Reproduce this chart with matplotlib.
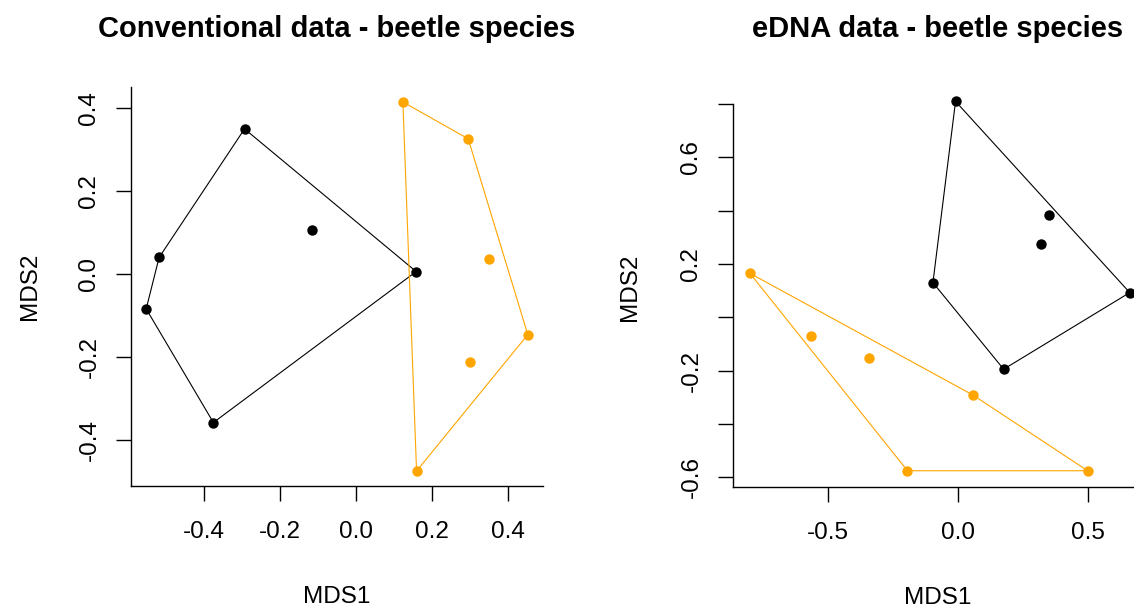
import matplotlib
matplotlib.use("Agg")
import matplotlib.pyplot as plt
import numpy as np

plt.rcParams['font.family'] = ['Liberation Sans', 'DejaVu Sans']

# NMDS scores
conv_black_x = [-0.293, -0.115, -0.518, -0.552, 0.159, -0.375]
conv_black_y = [0.349, 0.105, 0.039, -0.085, 0.005, -0.359]
conv_orange_x = [0.124, 0.296, 0.352, 0.453, 0.301, 0.160]
conv_orange_y = [0.414, 0.325, 0.035, -0.147, -0.213, -0.476]

edna_black_x = [-0.009, 0.350, 0.318, -0.096, 0.661, 0.176]
edna_black_y = [0.810, 0.384, 0.275, 0.130, 0.0925, -0.195]
edna_orange_x = [-0.800, -0.564, -0.342, 0.059, -0.194, 0.499]
edna_orange_y = [0.165, -0.069, -0.154, -0.2925, -0.576, -0.576]

conv_xticks = [-0.4, -0.2, 0.0, 0.2, 0.4]
conv_yticks = [-0.4, -0.2, 0.0, 0.2, 0.4]
edna_xticks = [-0.5, 0.0, 0.5]
edna_yticks = [-0.6, -0.4, -0.2, 0.0, 0.2, 0.4, 0.6, 0.8]
edna_ylabels = ["-0.6", "", "-0.2", "", "0.2", "", "0.6", ""]

ORANGE = "#FFA500"
FS = 17.5


def hull(xs, ys):
    # monotone chain convex hull, like ordihull
    pts = sorted(zip(xs, ys))

    def cross(o, a, b):
        return (a[0] - o[0]) * (b[1] - o[1]) - (a[1] - o[1]) * (b[0] - o[0])

    lower, upper = [], []
    for p in pts:
        while len(lower) >= 2 and cross(lower[-2], lower[-1], p) <= 0:
            lower.pop()
        lower.append(p)
    for p in reversed(pts):
        while len(upper) >= 2 and cross(upper[-2], upper[-1], p) <= 0:
            upper.pop()
        upper.append(p)
    h = lower[:-1] + upper[:-1]
    h.append(h[0])
    return np.array(h)


def draw_group(ax, xs, ys, color):
    h = hull(xs, ys)
    ax.plot(h[:, 0], h[:, 1], color=color, lw=0.8)
    ax.plot(xs, ys, 'o', color=color, markersize=7.5, markeredgewidth=0)


def style(ax, ylab_x):
    for s in ['top', 'right']:
        ax.spines[s].set_visible(False)
    for s in ['left', 'bottom']:
        ax.spines[s].set_linewidth(1.0)
    ax.tick_params(length=11, width=1.0, labelsize=FS)
    ax.tick_params(axis='x', pad=14)
    ax.tick_params(axis='y', labelrotation=90, pad=11)
    for lab in ax.get_yticklabels():
        lab.set_va('center')
    ax.set_xlabel("MDS1", fontsize=FS)
    ax.set_ylabel("MDS2", fontsize=FS)
    ax.xaxis.set_label_coords(0.5, -0.278)
    ax.xaxis.label.set_va('center')
    ax.yaxis.set_label_coords(ylab_x, 0.5)
    ax.yaxis.label.set_va('center')


fig = plt.figure(figsize=(11.34, 6.10), dpi=100)

ax1 = fig.add_axes([131 / 1134, 124 / 610, 412 / 1134, 399 / 610])
draw_group(ax1, conv_black_x, conv_black_y, 'black')
draw_group(ax1, conv_orange_x, conv_orange_y, ORANGE)
ax1.set_xlim(-0.592, 0.493)
ax1.set_ylim(-0.512, 0.450)
ax1.set_xticks(conv_xticks)
ax1.set_xticklabels([f"{v:.1f}" for v in conv_xticks])
ax1.set_yticks(conv_yticks)
ax1.set_yticklabels([f"{v:.1f}" for v in conv_yticks])
ax1.set_title("Conventional data - beetle species", fontsize=21, fontweight='bold', pad=36)
style(ax1, -0.245)

ax2 = fig.add_axes([733 / 1134, 123 / 610, 410 / 1134, 400 / 610])
draw_group(ax2, edna_black_x, edna_black_y, 'black')
draw_group(ax2, edna_orange_x, edna_orange_y, ORANGE)
ax2.set_xlim(-0.865, 0.712)
ax2.set_ylim(-0.637, 0.864)
ax2.set_xticks(edna_xticks)
ax2.set_xticklabels([f"{v:.1f}" for v in edna_xticks])
ax2.set_yticks(edna_yticks)
ax2.set_yticklabels(edna_ylabels)
ax2.spines['left'].set_bounds(-0.637, 0.8)
ax2.set_title("eDNA data - beetle species", fontsize=21, fontweight='bold', pad=36)
style(ax2, -0.251)

fig.savefig("out.png", dpi=100)
